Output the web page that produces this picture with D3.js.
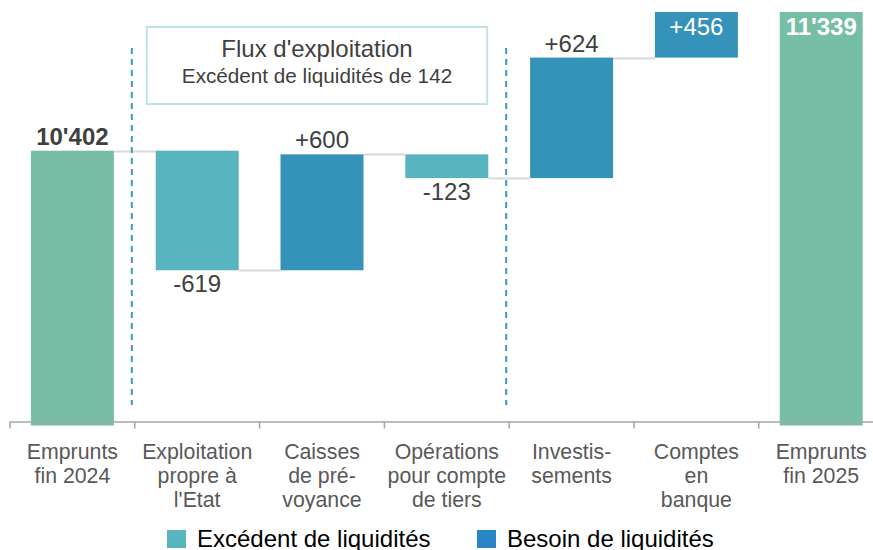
<!DOCTYPE html>
<head>
  <meta charset="utf-8">
  <script src="https://d3js.org/d3.v7.min.js"></script>
  <style>
    body { margin: 0; background: #fff; }
    svg { width: 873px; height: 550px; font-family: "Liberation Sans", Arial, sans-serif; }
  </style>
</head>

<body>
  <svg></svg>

  <script>
    const width = 873;
    const height = 550;

    // data
    const categories = ['Emprunts fin 2024', 'Exploitation propre à l\'Etat', 'Caisses de prévoyance',
      'Opérations pour compte de tiers', 'Investissements', 'Comptes en banque', 'Emprunts fin 2025'];
    const categoryLines = [
      ['Emprunts', 'fin 2024'],
      ['Exploitation', 'propre à', 'l\'Etat'],
      ['Caisses', 'de pré-', 'voyance'],
      ['Opérations', 'pour compte', 'de tiers'],
      ['Investis-', 'sements'],
      ['Comptes', 'en', 'banque'],
      ['Emprunts', 'fin 2025'],
    ];
    const values = [10402, -619, 600, -123, 624, 456, 11339];
    const isTotal = [true, false, false, false, false, false, true];
    const legendLabels = ['Excédent de liquidités', 'Besoin de liquidités'];
    const boxTitle = 'Flux d\'exploitation';
    const boxSubtitle = 'Excédent de liquidités de 142';

    const colors = {
      total: '#76bea6',
      surplus: '#58b5bf',
      need: '#3593ba',
      needLegend: '#2a85c7',
    };

    const fmt = v => d3.format(',')(Math.abs(v)).replace(/,/g, '\'');

    // build waterfall steps
    let running = 0;
    const steps = values.map((v, i) => {
      let start, end;
      if (isTotal[i]) { start = null; end = v; running = v; }
      else { start = running; end = running + v; running = end; }
      return { cat: categories[i], lines: categoryLines[i], value: v, total: isTotal[i], start, end };
    });

    const x = d3.scaleBand()
      .domain(categories)
      .range([10, 10 + 7 * 124.8])
      .padding(0);
    const y = d3.scaleLinear()
      .domain([9000, 11120])
      .range([421.5, 12]);

    const barW = x.bandwidth() * 0.665;
    const barX = d => x(d.cat) + (x.bandwidth() - barW) / 2;

    const svg = d3.select('svg');

    svg.append('clipPath').attr('id', 'plot')
      .append('rect').attr('x', 0).attr('y', 12).attr('width', width).attr('height', 420);

    // connectors
    const conn = svg.append('g').attr('clip-path', 'url(#plot)');
    steps.slice(0, -2).forEach((d, i) => {
      conn.append('line')
        .attr('x1', barX(d) + barW).attr('x2', barX(steps[i + 1]))
        .attr('y1', Math.round(y(d.end)) + 0.5).attr('y2', Math.round(y(d.end)) + 0.5)
        .attr('stroke', '#d9d9d9').attr('stroke-width', 2);
    });

    // bars
    const bars = svg.append('g').attr('clip-path', 'url(#plot)');
    bars.selectAll('rect').data(steps).enter().append('rect')
      .attr('x', barX)
      .attr('width', barW)
      .attr('y', d => d.total ? y(d.end) : y(Math.max(d.start, d.end)))
      .attr('height', d => d.total ? y.range()[0] + 4 - y(d.end) : Math.abs(y(d.start) - y(d.end)))
      .attr('fill', d => d.total ? colors.total : (d.value < 0 ? colors.surplus : colors.need));

    // value labels
    const topOf = d => d.total ? y(d.end) : y(Math.max(d.start, d.end));
    const clipped = d => topOf(d) < y.range()[1] + 20;
    svg.append('g').selectAll('text').data(steps).enter().append('text')
      .attr('x', d => barX(d) + barW / 2)
      .attr('y', d => {
        if (clipped(d)) return 35;
        return d.value < 0 && !d.total ? y(d.end) + 22 : topOf(d) - 6;
      })
      .attr('text-anchor', 'middle')
      .attr('font-size', 24)
      .attr('font-weight', d => d.total ? 'bold' : 'normal')
      .attr('fill', d => clipped(d) ? '#fff' : '#404040')
      .text(d => d.total ? fmt(d.value) : (d.value > 0 ? '+' : '-') + fmt(d.value));

    // dashed separators
    [1, 4].forEach(i => {
      const sx = x(categories[i]) - 3;
      svg.append('line')
        .attr('x1', sx).attr('x2', sx)
        .attr('y1', 48).attr('y2', 405)
        .attr('stroke', '#3a9ac6').attr('stroke-width', 2)
        .attr('stroke-dasharray', '6,5');
    });

    // annotation box
    const bx = x(categories[1]) + 12;
    const bw = x(categories[4]) - 22 - bx;
    svg.append('rect')
      .attr('x', bx).attr('y', 27).attr('width', bw).attr('height', 77)
      .attr('fill', 'none').attr('stroke', '#bfe3e8').attr('stroke-width', 2);
    svg.append('text')
      .attr('x', bx + bw / 2).attr('y', 57)
      .attr('text-anchor', 'middle').attr('font-size', 24).attr('fill', '#404040')
      .text(boxTitle);
    svg.append('text')
      .attr('x', bx + bw / 2).attr('y', 83)
      .attr('text-anchor', 'middle').attr('font-size', 20.7).attr('fill', '#404040')
      .text(boxSubtitle);

    // x axis
    const axis = svg.append('g')
      .attr('transform', 'translate(0,421.5)')
      .call(d3.axisBottom(x).tickSize(0).tickFormat(''));
    axis.select('.domain').attr('stroke', '#a6a6a6').attr('stroke-width', 1.5);
    axis.selectAll('.boundary').data(categories).enter().append('line')
      .attr('class', 'boundary')
      .attr('x1', d => x(d)).attr('x2', d => x(d))
      .attr('y1', 0).attr('y2', 7)
      .attr('stroke', '#a6a6a6').attr('stroke-width', 1.5);

    const labels = svg.append('g').selectAll('text').data(steps).enter().append('text')
      .attr('x', d => x(d.cat) + x.bandwidth() / 2)
      .attr('y', 459)
      .attr('text-anchor', 'middle')
      .attr('font-size', 21.3)
      .attr('fill', '#595959');
    labels.selectAll('tspan').data(d => d.lines).enter().append('tspan')
      .attr('x', function() { return d3.select(this.parentNode).attr('x'); })
      .attr('dy', (d, i) => i === 0 ? 0 : 24)
      .text(d => d);

    // legend
    const legend = svg.append('g');
    const legendPos = [167, 477];
    legendLabels.forEach((l, i) => {
      legend.append('rect')
        .attr('x', legendPos[i]).attr('y', 530).attr('width', 19).attr('height', 18)
        .attr('fill', i === 0 ? colors.surplus : colors.needLegend);
      legend.append('text')
        .attr('x', legendPos[i] + 30).attr('y', 547)
        .attr('font-size', 24).attr('fill', '#000')
        .text(l);
    });
  </script>
</body>
